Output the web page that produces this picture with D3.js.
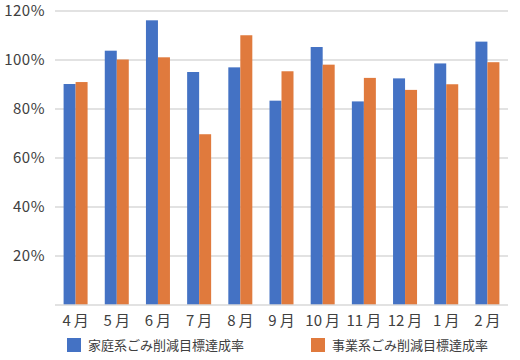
<!DOCTYPE html>
<html>
<head>
<meta charset="utf-8">
<script src="https://cdn.jsdelivr.net/npm/d3@7"></script>
<style>
  body { margin: 0; background: #fff; }
  svg text { font-family: "Noto Sans CJK JP", "Noto Sans", sans-serif; fill: #404040; }
</style>
</head>
<body>
<div id="chart"></div>
<script>
const months = ["4", "5", "6", "7", "8", "9", "10", "11", "12", "1", "2"];
const household = [90.2, 103.8, 116.2, 95.1, 97.0, 83.4, 105.3, 83.1, 92.5, 98.6, 107.5];
const business = [91.0, 100.2, 101.1, 69.7, 110.1, 95.4, 98.1, 92.7, 87.8, 90.1, 99.1];
const seriesNames = ["家庭系ごみ削減目標達成率", "事業系ごみ削減目標達成率"];
const yTicks = [20, 40, 60, 80, 100, 120];

const colors = ["#4472C4", "#E07A3D"];
const width = 520, height = 360;
const plotLeft = 55, plotRight = 508, plotTop = 11, plotBottom = 305;

const svg = d3.select('#chart').append('svg')
    .attr('width', width)
    .attr('height', height);

const xScale = d3.scaleBand()
    .domain(months)
    .range([plotLeft, plotRight]);

const yScale = d3.scaleLinear()
    .domain([0, 120])
    .range([plotBottom, plotTop]);

const barWidth = 12;

// grid lines
svg.append('g')
    .selectAll('line')
    .data(yTicks)
    .enter()
    .append('line')
    .attr('x1', plotLeft)
    .attr('x2', plotRight)
    .attr('y1', d => yScale(d))
    .attr('y2', d => yScale(d))
    .attr('stroke', '#d9d9d9')
    .attr('stroke-width', 1.5);

// y labels
svg.append('g')
    .selectAll('text')
    .data(yTicks)
    .enter()
    .append('text')
    .attr('x', 45)
    .attr('y', d => yScale(d))
    .attr('dy', '0.36em')
    .attr('text-anchor', 'end')
    .attr('font-size', 15)
    .attr('letter-spacing', 0.5)
    .text(d => d + '%');

// bars
const series = [household, business];
series.forEach((vals, si) => {
    svg.append('g')
        .selectAll('rect')
        .data(vals)
        .enter()
        .append('rect')
        .attr('x', (d, i) => xScale(months[i]) + xScale.bandwidth() / 2 - barWidth + si * barWidth)
        .attr('y', d => yScale(d))
        .attr('width', barWidth)
        .attr('height', d => yScale(0) - yScale(d))
        .attr('fill', colors[si]);
});

// baseline
svg.append('line')
    .attr('x1', plotLeft)
    .attr('x2', plotRight)
    .attr('y1', yScale(0))
    .attr('y2', yScale(0))
    .attr('stroke', '#d9d9d9')
    .attr('stroke-width', 1.5);

// x labels
const xLabels = svg.append('g')
    .selectAll('text')
    .data(months)
    .enter()
    .append('text')
    .attr('x', d => xScale(d) + xScale.bandwidth() / 2)
    .attr('y', 321)
    .attr('dy', '0.36em')
    .attr('text-anchor', 'middle')
    .attr('font-size', 15);
xLabels.append('tspan').text(d => d);
xLabels.append('tspan').attr('dx', 3).text('月');

// legend
const legendX = [67, 311];
seriesNames.forEach((name, i) => {
    svg.append('rect')
        .attr('x', legendX[i])
        .attr('y', 338)
        .attr('width', 14)
        .attr('height', 14)
        .attr('fill', colors[i]);
    svg.append('text')
        .attr('x', legendX[i] + 21)
        .attr('y', 345)
        .attr('dy', '0.36em')
        .attr('font-size', 13)
        .text(name);
});
</script>
</body>
</html>
